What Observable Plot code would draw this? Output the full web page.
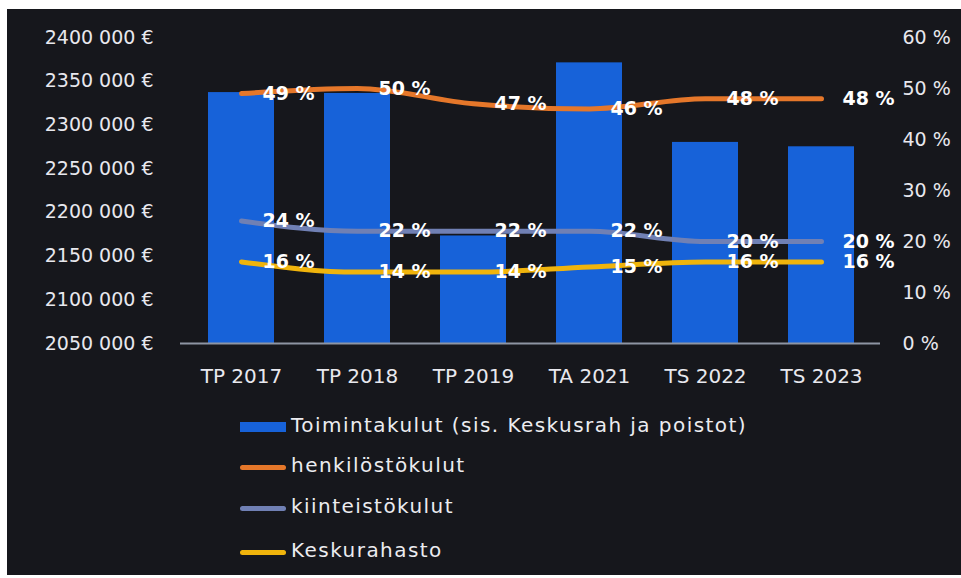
<!DOCTYPE html>
<html><head><meta charset="utf-8">
<script src="https://cdn.jsdelivr.net/npm/d3@7"></script>
<script src="https://cdn.jsdelivr.net/npm/@observablehq/plot@0.6"></script>
<style>
html,body{margin:0;padding:0;background:#ffffff;width:961px;height:578px;overflow:hidden;font-family:"DejaVu Sans",sans-serif;}
#panel{position:absolute;left:7px;top:9px;width:954px;height:566px;background:#16171c;}
#chart{position:absolute;left:0;top:0;}
#legend{position:absolute;left:0;top:0;}
.sw{position:absolute;left:240px;width:46px;}
.lab{position:absolute;left:291px;color:#ececf0;font-size:20px;letter-spacing:1.45px;line-height:24px;white-space:nowrap;}
</style>
</head><body>
<div id="panel"></div>
<div id="chart"></div>
<div id="legend"></div>
<script>
const categories = ["TP 2017","TP 2018","TP 2019","TA 2021","TS 2022","TS 2023"];
const toimintakulut = [2337000, 2336000, 2173000, 2371000, 2280000, 2275000];
const henkilostokulut = [49, 50, 47, 46, 48, 48];
const kiinteistokulut = [24, 22, 22, 22, 20, 20];
const keskusrahasto = [16, 14, 14, 15, 16, 16];
const seriesNames = ["Toimintakulut (sis. Keskusrah ja poistot)", "henkilöstökulut", "kiinteistökulut", "Keskurahasto"];
const leftTicks = [2050000, 2100000, 2150000, 2200000, 2250000, 2300000, 2350000, 2400000];
const leftTickLabels = ["2050 000 €","2100 000 €","2150 000 €","2200 000 €","2250 000 €","2300 000 €","2350 000 €","2400 000 €"];
const rightTicks = [0, 10, 20, 30, 40, 50, 60];
const rightTickLabels = ["0 %","10 %","20 %","30 %","40 %","50 %","60 %"];

const colors = ["#1762d9", "#e5772a", "#7080b4", "#f0b40c"];
const yMin = 2050000, yMax = 2400000, pMax = 60;
const pctToY = p => yMin + p / pMax * (yMax - yMin);

const bars = categories.map((c, i) => ({cat: c, v: toimintakulut[i]}));
const lineSets = [henkilostokulut, kiinteistokulut, keskusrahasto].map((arr, k) =>
  categories.map((c, i) => ({cat: c, v: arr[i], s: seriesNames[k + 1]})));

const lineMarks = lineSets.map((ds, k) => Plot.line(ds, {
  x: "cat", y: d => pctToY(d.v), stroke: colors[k + 1], strokeWidth: 5, curve: "monotone-x"
}));
const textMarks = lineSets.map(ds => Plot.text(ds, {
  x: "cat", y: d => pctToY(d.v), text: d => d.v + " %", textAnchor: "start", dx: 21,
  fill: "#ffffff", fontSize: 19, fontWeight: "bold"
}));

const chart = Plot.plot({
  width: 961, height: 400,
  marginLeft: 180, marginRight: 81, marginTop: 37, marginBottom: 57,
  style: {background: "transparent", color: "#e8e8ee", fontFamily: "DejaVu Sans", fontSize: "19px"},
  x: {domain: categories, range: [158, 904], padding: 0.43, label: null},
  y: {domain: [yMin, yMax], range: [343, 37], label: null},
  marks: [
    Plot.barY(bars, {x: "cat", y1: yMin, y2: "v", fill: colors[0]}),
    ...lineMarks,
    Plot.ruleY([yMin], {stroke: "#8e95a3", strokeWidth: 2}),
    Plot.axisY(leftTicks, {anchor: "left", tickSize: 0, tickPadding: 27, fontSize: 19,
      tickFormat: d => leftTickLabels[leftTicks.indexOf(d)], label: null}),
    Plot.axisY(rightTicks.map(pctToY), {anchor: "right", tickSize: 0, tickPadding: 22, fontSize: 19,
      tickFormat: d => rightTickLabels[rightTicks.indexOf(Math.round((d - yMin) / (yMax - yMin) * pMax))], label: null}),
    Plot.axisX({tickSize: 0, tickPadding: 25, fontSize: 20, label: null}),
    ...textMarks
  ]
});
document.getElementById("chart").appendChild(chart);

// legend
const legend = document.getElementById("legend");
const rowCenters = [427, 467, 508, 552];
seriesNames.forEach((name, k) => {
  const sw = document.createElement("div");
  sw.className = "sw";
  const h = k === 0 ? 10 : 5;
  sw.style.top = (rowCenters[k] - h / 2) + "px";
  sw.style.height = h + "px";
  sw.style.background = colors[k];
  if (k > 0) sw.style.borderRadius = "3px";
  legend.appendChild(sw);
  const t = document.createElement("div");
  t.className = "lab";
  t.textContent = name;
  t.style.top = (rowCenters[k] - 14) + "px";
  legend.appendChild(t);
});
</script>
</body></html>
